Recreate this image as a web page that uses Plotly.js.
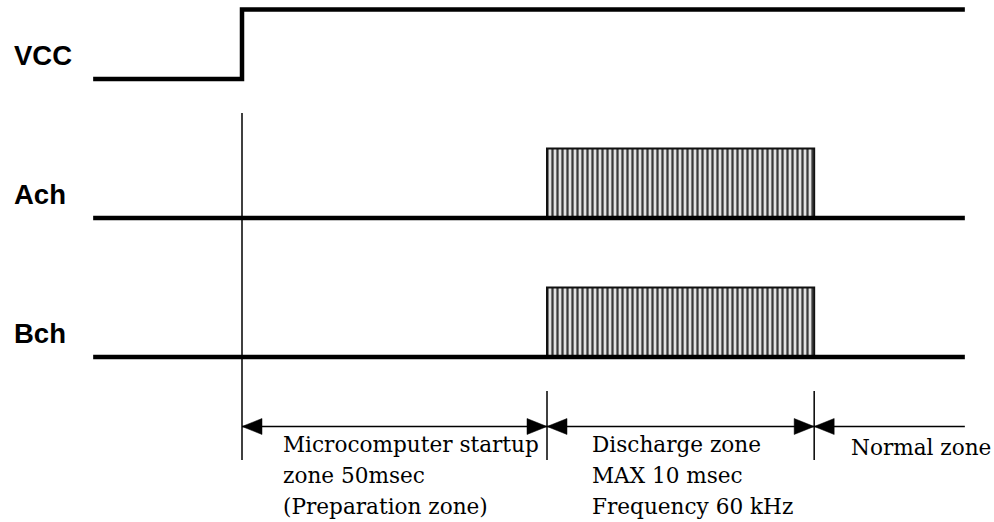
<!DOCTYPE html>
<html><head><meta charset="utf-8">
<script src="https://cdn.plot.ly/plotly-3.0.1.min.js"></script>
<style>html,body{margin:0;padding:0;background:#fff;}#chart{width:994px;height:522px;}</style>
</head><body><div id="chart"></div>
<script>
// Schematic timing diagram (time axis is schematic, not to scale)
const signalNames = ['VCC', 'Ach', 'Bch'];
const signalRows = [4, 2, 0];            // base level of each signal row
const tStart = -24.4;
const tVccOn = 0;
const tDischargeStart = 50;
const tDischargeEnd = 93.8;
const tEnd = 118.5;
const vccTimes = [tStart, tVccOn, tVccOn, tEnd];
const vccLevels = [0, 0, 1, 1];
const baseTimes = [tStart, tEnd];
const baseLevels = [0, 0];
const pulseTimes = [tDischargeStart, tDischargeStart, tDischargeEnd, tDischargeEnd, tDischargeStart];
const pulseLevels = [0, 1, 1, 0, 0];
const zoneBounds = [tVccOn, tDischargeStart, tDischargeEnd, tEnd];
const zoneLabels = [
  ['Microcomputer startup', 'zone 50msec', '(Preparation zone)'],
  ['Discharge zone', 'MAX 10 msec', 'Frequency 60 kHz'],
  ['Normal zone']
];

// ---- styling / layout constants ----
const PX_X = 6.1, PX_Y = 69.5;          // pixels per unit
const arrowY = -1;
const arrowLen = 20 / PX_X, arrowHalf = 8 / PX_Y;
const markerTop = 3.511, zoneLineTop = -0.489, lineBottom = -1.482;
const textRowsY = [-1.252, -1.698, -2.144];
const textShift = [39, 43, 35];
const textDrop = [0, 0, -0.043];
const labelOffset = 0.338;

const traces = [];
const blk = '#000';

// pulse blocks (hatched) for Ach and Bch
[1, 2].forEach(i => {
  traces.push({
    x: pulseTimes, y: pulseLevels.map(v => v + signalRows[i]),
    mode: 'lines', fill: 'toself', fillcolor: '#d8d8d8',
    fillpattern: {shape: '|', size: 5, solidity: 0.45, fgcolor: '#3a3a3a', bgcolor: '#e2e2e2'},
    line: {color: '#111', width: 2}, hoverinfo: 'skip', showlegend: false
  });
});
// VCC
traces.push({x: vccTimes, y: vccLevels.map(v => v + signalRows[0]), mode: 'lines',
  line: {color: blk, width: 4.5}, hoverinfo: 'skip', showlegend: false});
// baselines of Ach and Bch
[1, 2].forEach(i => {
  traces.push({x: baseTimes, y: baseLevels.map(v => v + signalRows[i]), mode: 'lines',
    line: {color: blk, width: 4.5}, hoverinfo: 'skip', showlegend: false});
});
// vertical marker lines
const vx = [], vy = [];
vx.push(zoneBounds[0], zoneBounds[0], null); vy.push(markerTop, lineBottom, null);
[zoneBounds[1], zoneBounds[2]].forEach(t => { vx.push(t, t, null); vy.push(zoneLineTop, lineBottom, null); });
traces.push({x: vx, y: vy, mode: 'lines', line: {color: blk, width: 1.5}, hoverinfo: 'skip', showlegend: false});
// arrow line
traces.push({x: [zoneBounds[0], zoneBounds[3]], y: [arrowY, arrowY], mode: 'lines',
  line: {color: blk, width: 1.5}, hoverinfo: 'skip', showlegend: false});
// arrowheads
const ax = [], ay = [];
function head(tip, dir) { // dir = -1 points left, +1 points right
  const b = tip - dir * arrowLen;
  ax.push(tip, b, b, tip, null); ay.push(arrowY, arrowY + arrowHalf, arrowY - arrowHalf, arrowY, null);
}
for (let z = 0; z < 3; z++) {
  head(zoneBounds[z], -1);
  if (z < 2) head(zoneBounds[z + 1], 1);
}
traces.push({x: ax, y: ay, mode: 'lines', fill: 'toself', fillcolor: blk,
  line: {color: blk, width: 0.5}, hoverinfo: 'skip', showlegend: false});

const annotations = [];
signalNames.forEach((n, i) => {
  annotations.push({text: n, xref: 'paper', x: 12 / 994, xanchor: 'left', y: signalRows[i] + labelOffset,
    yanchor: 'middle', showarrow: false,
    font: {family: 'Liberation Sans, Arial, sans-serif', size: 27.5, color: '#000', weight: 'bold'}});
});
zoneLabels.forEach((lines, z) => {
  lines.forEach((t, k) => {
    annotations.push({text: t, x: zoneBounds[z], xanchor: 'left', xshift: textShift[z],
      y: textRowsY[k] + textDrop[z], yanchor: 'middle', showarrow: false,
      font: {family: 'DejaVu Serif, serif', size: 21.6, color: '#000'}});
  });
});

const layout = {
  width: 994, height: 522, margin: {l: 0, r: 0, t: 0, b: 0},
  paper_bgcolor: '#fff', plot_bgcolor: '#fff',
  xaxis: {range: [-242 / PX_X, 752 / PX_X], visible: false, fixedrange: true},
  yaxis: {range: [-165 / PX_Y, 357 / PX_Y], visible: false, fixedrange: true},
  annotations: annotations, showlegend: false
};
Plotly.newPlot('chart', traces, layout, {staticPlot: true, displayModeBar: false});
</script></body></html>
